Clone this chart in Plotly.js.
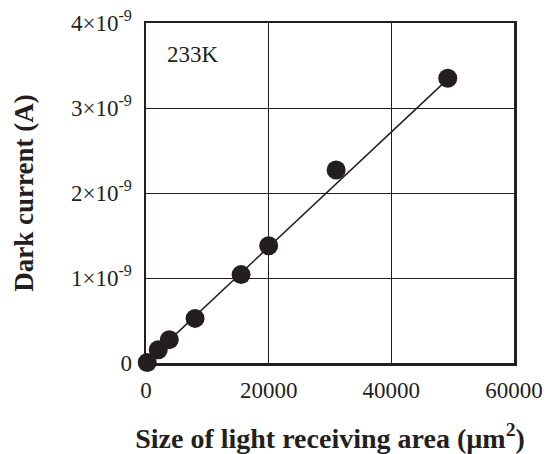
<!DOCTYPE html>
<html>
<head>
<meta charset="utf-8">
<script src="https://cdn.plot.ly/plotly-3.0.1.min.js"></script>
<style>html,body{margin:0;padding:0;background:#fff;}#chart{width:555px;height:454px;}</style>
</head>
<body>
<div id="chart"></div>
<script>
// Measured points
const areaUm2 = [200, 2000, 3800, 8000, 15500, 20000, 31000, 49200];
const darkCurrentA = [0.005e-9, 0.155e-9, 0.275e-9, 0.525e-9, 1.04e-9, 1.38e-9, 2.27e-9, 3.35e-9];
// Fitted line end points
const fitX = [0, 49200];
const fitY = [0.01e-9, 3.34e-9];
// Axis ticks
const xTickVals = [0, 20000, 40000, 60000];
const xTickText = ["0", "20000", "40000", "60000"];
const yTickVals = [0, 1e-9, 2e-9, 3e-9, 4e-9];
const yTickText = ["0", "1×10<sup>-9</sup>", "2×10<sup>-9</sup>", "3×10<sup>-9</sup>", "4×10<sup>-9</sup>"];
const tempLabel = "233K";

const ink = "#231f20";
const serif = "Liberation Serif, Times New Roman, serif";

const traces = [
  {x: fitX, y: fitY, mode: "lines", line: {color: ink, width: 1.5}, hoverinfo: "skip"},
  {x: areaUm2, y: darkCurrentA, mode: "markers", marker: {color: ink, size: 19}, cliponaxis: false}
];

const layout = {
  width: 555, height: 454,
  margin: {l: 146, r: 41, t: 23, b: 91},
  paper_bgcolor: "#fff", plot_bgcolor: "#fff",
  showlegend: false,
  font: {family: serif, color: ink, size: 23},
  xaxis: {
    range: [0, 60000], tickvals: xTickVals, ticktext: xTickText,
    showgrid: true, gridcolor: ink, gridwidth: 1,
    zeroline: false, showline: true, linecolor: ink, linewidth: 2.5, mirror: true,
    ticks: "inside", ticklen: 5, tickcolor: ink, ticklabelstandoff: 5,
    tickfont: {family: serif, size: 23, color: ink},
    title: {text: "<b>Size of light receiving area (µm<sup>2</sup>)</b>", font: {family: serif, size: 28, color: ink}, standoff: 27}
  },
  yaxis: {
    range: [0, 4e-9], tickvals: yTickVals, ticktext: yTickText,
    showgrid: true, gridcolor: ink, gridwidth: 1,
    zeroline: false, showline: true, linecolor: ink, linewidth: 2.5, mirror: true,
    ticks: "inside", ticklen: 5, tickcolor: ink, ticklabelstandoff: 7,
    tickfont: {family: serif, size: 23, color: ink},
    title: {text: "<b>Dark current (A)</b>", font: {family: serif, size: 27, color: ink}, standoff: 30}
  },
  annotations: [{
    x: 3100, y: 3.63e-9, xref: "x", yref: "y", text: tempLabel, showarrow: false,
    xanchor: "left", yanchor: "middle", font: {family: serif, size: 23, color: ink}
  }]
};

Plotly.newPlot("chart", traces, layout, {displayModeBar: false, staticPlot: true});
</script>
</body>
</html>
